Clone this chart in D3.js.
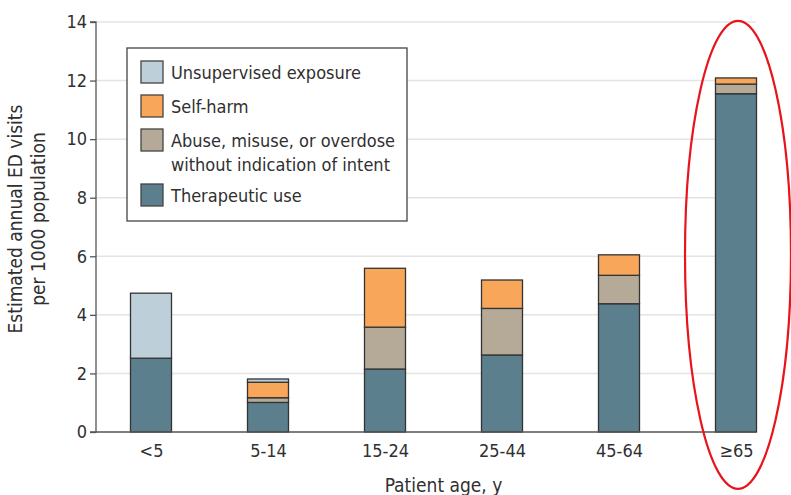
<!DOCTYPE html>
<html>
<head>
<meta charset="utf-8">
<script src="https://cdn.jsdelivr.net/npm/d3@7"></script>
<style>
  body { margin: 0; background: #fff; }
  text { font-family: "Liberation Sans Narrow", "DejaVu Sans Condensed", sans-serif; fill: #303030; }
</style>
</head>
<body>
<div class="viz"></div>
<script>
const margin = { top: 22, bottom: 63, left: 96, right: 35 };

const width = 791 - margin.left - margin.right;
const height = 495 - margin.top - margin.bottom;

const barSize = 41;

// data
const ages = ["<5", "5-14", "15-24", "25-44", "45-64", "≥65"];
const therapeutic = [2.52, 1.01, 2.15, 2.63, 4.38, 11.55];
const abuse = [0, 0.16, 1.43, 1.59, 0.97, 0.33];
const selfHarm = [0, 0.53, 2.01, 0.97, 0.70, 0.21];
const unsupervised = [2.22, 0.11, 0, 0, 0, 0];
const yTicks = [0, 2, 4, 6, 8, 10, 12, 14];

const keys = ["Therapeutic", "Abuse", "Self", "Unsupervised"];
const colScale = d3.scaleOrdinal()
    .domain(keys)
    .range(["#5b7f8c", "#b4aa97", "#f8a659", "#bdd0da"]);

const table = ages.map(function(a, i) {
    return { age: a, Therapeutic: therapeutic[i], Abuse: abuse[i], Self: selfHarm[i], Unsupervised: unsupervised[i] };
});

const svg = d3.select('.viz')
    .append('svg')
    .attr('width', 791)
    .attr('height', 495)
    .append('g')
    .attr('transform', `translate(${margin.left},${margin.top})`);

/* SCALES */
const x = d3.scalePoint()
    .domain(ages)
    .range([55, width - 20]);

const y = d3.scaleLinear()
    .domain([0, 14])
    .range([height, 0]);

// gridlines
svg.append("g")
    .selectAll("line")
    .data(yTicks.filter(function(d) { return d > 0; }))
    .enter()
    .append("line")
    .attr("x1", 0)
    .attr("x2", width)
    .attr("y1", function(d) { return y(d); })
    .attr("y2", function(d) { return y(d); })
    .style("stroke", "#e4e4e4")
    .style("stroke-width", 1.5);

// y axis
const yAxis = svg.append("g")
    .call(d3.axisLeft(y).tickValues(yTicks).tickSize(6).tickPadding(3));
yAxis.selectAll("text").style("font-size", "18px");
yAxis.selectAll("line, path").style("stroke", "#555").style("stroke-width", 1.3);
yAxis.select("path").attr("d", `M-6,${height}H0V0H-6`);

/* stacked bars */
const stacked = d3.stack().keys(keys)(table);

svg.append("g")
    .selectAll("g")
    .data(stacked)
    .enter()
    .append("g")
    .style("fill", function(d) { return colScale(d.key); })
    .selectAll("rect")
    .data(function(d) { return d.filter(function(e) { return e[1] - e[0] > 0; }); })
    .enter()
    .append("rect")
    .attr("x", function(d) { return x(d.data.age) - barSize / 2; })
    .attr("y", function(d) { return y(d[1]); })
    .attr("width", barSize)
    .attr("height", function(d) { return y(d[0]) - y(d[1]); })
    .style("stroke", "#333")
    .style("stroke-width", 1.3);

// x axis
const xAxis = svg.append("g")
    .attr("transform", "translate(0," + height + ")")
    .call(d3.axisBottom(x).tickSize(0).tickPadding(12));
xAxis.select("path").attr("d", `M0,0H${width}`).style("stroke", "#555").style("stroke-width", 1.3);
xAxis.selectAll("text").style("font-size", "18px");

// axis titles
svg.append("text")
    .attr("x", (x("15-24") + x("25-44")) / 2)
    .attr("y", height + 60)
    .attr("text-anchor", "middle")
    .style("font-size", "19px")
    .text("Patient age, y");

const yTitle = svg.append("text")
    .attr("transform", `translate(-74,${y(7) - 8}) rotate(-90)`)
    .attr("text-anchor", "middle")
    .style("font-size", "19px");
yTitle.append("tspan").attr("x", 0).attr("dy", 0).text("Estimated annual ED visits");
yTitle.append("tspan").attr("x", 0).attr("dy", 23).text("per 1000 population");

/* LEGEND */
const leg_data = [
    { label: ["Unsupervised exposure"], key: "Unsupervised", y: 51 },
    { label: ["Self-harm"], key: "Self", y: 85 },
    { label: ["Abuse, misuse, or overdose", "without indication of intent"], key: "Abuse", y: 119 },
    { label: ["Therapeutic use"], key: "Therapeutic", y: 174 }
];

const leg = svg.append("g").attr("transform", "translate(31,0)");

leg.append("rect")
    .attr("x", 0)
    .attr("y", 26)
    .attr("width", 280)
    .attr("height", 173)
    .style("fill", "#fff")
    .style("stroke", "#444")
    .style("stroke-width", 1.3);

leg.selectAll(null)
    .data(leg_data)
    .enter()
    .append("rect")
    .attr("x", 14)
    .attr("y", function(d) { return d.y - 12; })
    .attr("width", 22)
    .attr("height", 22)
    .style("fill", function(d) { return colScale(d.key); })
    .style("stroke", "#444")
    .style("stroke-width", 1.3);

leg.selectAll(null)
    .data(leg_data)
    .enter()
    .append("text")
    .attr("x", 44)
    .attr("y", function(d) { return d.y + 6; })
    .style("font-size", "18px")
    .each(function(d) {
        const t = d3.select(this);
        d.label.forEach(function(l, i) {
            t.append("tspan").attr("x", 44).attr("dy", i === 0 ? 0 : 24).text(l);
        });
    });

/* highlight ring round the last group */
svg.append("ellipse")
    .attr("cx", x("≥65") + 2)
    .attr("cy", y(6.05))
    .attr("rx", 53)
    .attr("ry", 234)
    .style("fill", "none")
    .style("stroke", "#e8141b")
    .style("stroke-width", 2.2);
</script>
</body>
</html>
